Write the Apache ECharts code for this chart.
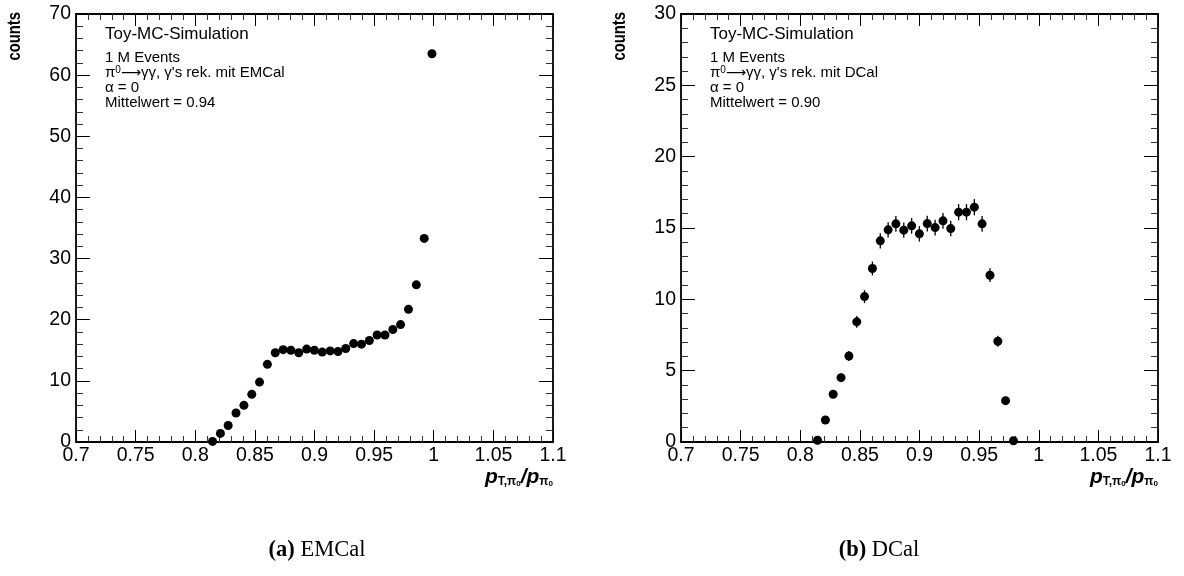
<!DOCTYPE html>
<html>
<head>
<meta charset="utf-8">
<script src="https://cdn.jsdelivr.net/npm/echarts@6/dist/echarts.min.js"></script>
<style>
html,body{margin:0;padding:0;background:#fff;}
#chart{width:1184px;height:576px;}
</style>
</head>
<body>
<div id="chart"></div>
<script>
// ---- data ----
const binCenters = [0.8145, 0.8211, 0.8276, 0.8342, 0.8408, 0.8474, 0.8539, 0.8605, 0.8671, 0.8737,
                    0.8802, 0.8868, 0.8934, 0.8999, 0.9065, 0.9131, 0.9197, 0.9262, 0.9328, 0.9394,
                    0.9460, 0.9525, 0.9591, 0.9657, 0.9722, 0.9788, 0.9854, 0.9920, 0.9985];
const emcalCounts = [0.1, 1.4, 2.7, 4.75, 6.0, 7.8, 9.8, 12.7, 14.6, 15.1,
                     15.0, 14.6, 15.2, 15.0, 14.7, 14.9, 14.8, 15.3, 16.1, 16.0,
                     16.6, 17.5, 17.5, 18.4, 19.2, 21.7, 25.7, 33.3, 63.5];
const emcalErrors = [0.05, 0.15, 0.2, 0.25, 0.3, 0.33, 0.36, 0.4, 0.42, 0.43,
                     0.43, 0.42, 0.43, 0.43, 0.42, 0.42, 0.42, 0.43, 0.44, 0.44,
                     0.45, 0.46, 0.46, 0.47, 0.48, 0.5, 0.52, 0.55, 0.6];
const dcalCounts = [0.12, 1.54, 3.35, 4.51, 6.03, 8.42, 10.19, 12.16, 14.1, 14.87,
                    15.29, 14.85, 15.15, 14.59, 15.31, 15.03, 15.5, 14.96, 16.11, 16.11,
                    16.46, 15.29, 11.69, 7.06, 2.9, 0.09];
const dcalErrors = [0.05, 0.17, 0.26, 0.3, 0.35, 0.41, 0.45, 0.49, 0.53, 0.54,
                    0.55, 0.54, 0.55, 0.54, 0.55, 0.55, 0.55, 0.54, 0.57, 0.57,
                    0.57, 0.55, 0.48, 0.38, 0.24, 0.04];

const xRange = [0.7, 1.1, 0.05];      // min, max, major step
const yRangeEMCal = [0, 70, 10];
const yRangeDCal = [0, 30, 5];

const emcalInfo = ['Toy-MC-Simulation', '1 M Events', ' γ\'s rek. mit EMCal', 'α = 0', 'Mittelwert = 0.94'];
const dcalInfo  = ['Toy-MC-Simulation', '1 M Events', ' γ\'s rek. mit DCal', 'α = 0', 'Mittelwert = 0.90'];
const decayText = ['π', '0', '\u27F6', 'γγ,'];
const captions = [['(a)', ' EMCal'], ['(b)', ' DCal']];
const yTitle = 'counts';

// ---- chart ----
const FONT = 'Liberation Sans, Arial, Helvetica, sans-serif';
const SERIF = 'Liberation Serif, Times New Roman, serif';

function toData(xs, ys, es) {
  return ys.map((y, i) => [xs[i], y, es[i]]);
}

function xAxisDef(gridIndex, position, showLabel) {
  return {
    type: 'value', gridIndex, position,
    min: xRange[0], max: xRange[1], interval: xRange[2],
    axisLine: { show: true, onZero: false, lineStyle: { color: '#000', width: 1.8 } },
    axisTick: { show: true, inside: true, length: 12, lineStyle: { color: '#000', width: 1 } },
    minorTick: { show: true, splitNumber: 5, length: 6, lineStyle: { color: '#333', width: 1 } },
    splitLine: { show: false },
    axisLabel: { show: showLabel, color: '#000', fontSize: 19.5, fontFamily: FONT, margin: 4,
                 showMinLabel: true, showMaxLabel: true }
  };
}
function yAxisDef(gridIndex, position, range, showLabel) {
  return {
    type: 'value', gridIndex, position,
    min: range[0], max: range[1], interval: range[2],
    axisLine: { show: true, onZero: false, lineStyle: { color: '#000', width: 1.8 } },
    axisTick: { show: true, inside: true, length: 14, lineStyle: { color: '#000', width: 1 } },
    minorTick: { show: true, splitNumber: 5, length: 7, lineStyle: { color: '#333', width: 1 } },
    splitLine: { show: false },
    axisLabel: { show: showLabel, color: '#000', fontSize: 19.5, fontFamily: FONT, margin: 5,
                 showMinLabel: true, showMaxLabel: true }
  };
}

function errorSeries(xi, yi, data) {
  return {
    type: 'custom', xAxisIndex: xi, yAxisIndex: yi, data, clip: false, z: 3,
    encode: { x: 0, y: 1 }, silent: true,
    renderItem: function (params, api) {
      const x = api.value(0), y = api.value(1), e = api.value(2);
      const p1 = api.coord([x, y - e]);
      const p2 = api.coord([x, y + e]);
      return { type: 'line', shape: { x1: p1[0], y1: p1[1], x2: p2[0], y2: p2[1] },
               style: { stroke: '#000', lineWidth: 1.3 } };
    }
  };
}
function pointSeries(xi, yi, data) {
  return {
    type: 'scatter', xAxisIndex: xi, yAxisIndex: yi, data, clip: false, z: 4,
    symbol: 'circle', symbolSize: 9,
    itemStyle: { color: '#000', opacity: 1 }, silent: true
  };
}

function infoTexts(x0, lines) {
  const ys = [34, 58, 73, 88, 103];
  const sizes = [17, 15, 15, 15, 15];
  return lines.map((t, i) => {
    if (i === 2) {
      return {
        type: 'text', x: x0, y: ys[i],
        style: {
          text: '{g|' + decayText[0] + '}{sup|' + decayText[1] + '}{a|' + decayText[2] + '}{g|' + decayText[3] + t + '}',
          fill: '#000', align: 'left', verticalAlign: 'middle',
          rich: {
            g: { fontSize: 15, fontFamily: FONT, lineHeight: 16, verticalAlign: 'middle' },
            sup: { fontSize: 10, fontFamily: FONT, lineHeight: 6, verticalAlign: 'top' },
            a: { fontSize: 14, fontFamily: 'DejaVu Sans', lineHeight: 16, verticalAlign: 'middle' }
          }
        }
      };
    }
    return {
      type: 'text', x: x0, y: ys[i],
      style: { text: t, fill: '#000', font: sizes[i] + 'px ' + FONT, align: 'left', verticalAlign: 'middle' }
    };
  });
}
function xTitle(xRight) {
  return {
    type: 'text', x: xRight, y: 464,
    style: {
      text: '{p|p}{s|T,π}{ss|0}{p|/p}{s|π}{ss|0}',
      align: 'right', verticalAlign: 'top', fill: '#000',
      rich: {
        p: { fontSize: 21, fontWeight: 'bold', fontStyle: 'italic', fontFamily: FONT, lineHeight: 24, verticalAlign: 'bottom' },
        s: { fontSize: 12, fontWeight: 'bold', fontFamily: FONT, lineHeight: 4, verticalAlign: 'bottom' },
        ss: { fontSize: 8, fontWeight: 'bold', fontFamily: FONT, lineHeight: 8, verticalAlign: 'bottom' }
      }
    }
  };
}
function yTitleEl(x) {
  return {
    type: 'text', x: x, y: 12, rotation: Math.PI / 2, scaleX: 0.78,
    style: { text: yTitle, fill: '#000', font: 'bold 19px ' + FONT, align: 'right', verticalAlign: 'middle' }
  };
}
function caption(x, c) {
  return {
    type: 'text', x: x, y: 550,
    style: {
      text: '{b|' + c[0] + '}{n|' + c[1] + '}', align: 'center', verticalAlign: 'middle', fill: '#000',
      rich: {
        b: { fontSize: 22.5, fontWeight: 'bold', fontFamily: SERIF },
        n: { fontSize: 22.5, fontFamily: SERIF }
      }
    }
  };
}

const chart = echarts.init(document.getElementById('chart'), null, { renderer: 'canvas' });
const option = {
  animation: false,
  backgroundColor: '#fff',
  textStyle: { fontFamily: FONT },
  grid: [
    { left: 76, right: 631, top: 14, bottom: 134, containLabel: false, outerBoundsMode: 'none' },
    { left: 681, right: 26, top: 14, bottom: 134, containLabel: false, outerBoundsMode: 'none' }
  ],
  xAxis: [
    xAxisDef(0, 'bottom', true), xAxisDef(0, 'top', false),
    xAxisDef(1, 'bottom', true), xAxisDef(1, 'top', false)
  ],
  yAxis: [
    yAxisDef(0, 'left', yRangeEMCal, true), yAxisDef(0, 'right', yRangeEMCal, false),
    yAxisDef(1, 'left', yRangeDCal, true), yAxisDef(1, 'right', yRangeDCal, false)
  ],
  series: [
    errorSeries(0, 0, toData(binCenters, emcalCounts, emcalErrors)),
    pointSeries(0, 0, toData(binCenters, emcalCounts, emcalErrors)),
    errorSeries(2, 2, toData(binCenters, dcalCounts, dcalErrors)),
    pointSeries(2, 2, toData(binCenters, dcalCounts, dcalErrors))
  ],
  graphic: [].concat(
    infoTexts(105, emcalInfo),
    infoTexts(710, dcalInfo),
    [xTitle(553), xTitle(1158), yTitleEl(15), yTitleEl(620), caption(317, captions[0]), caption(879, captions[1])]
  )
};
chart.setOption(option);
</script>
</body>
</html>
